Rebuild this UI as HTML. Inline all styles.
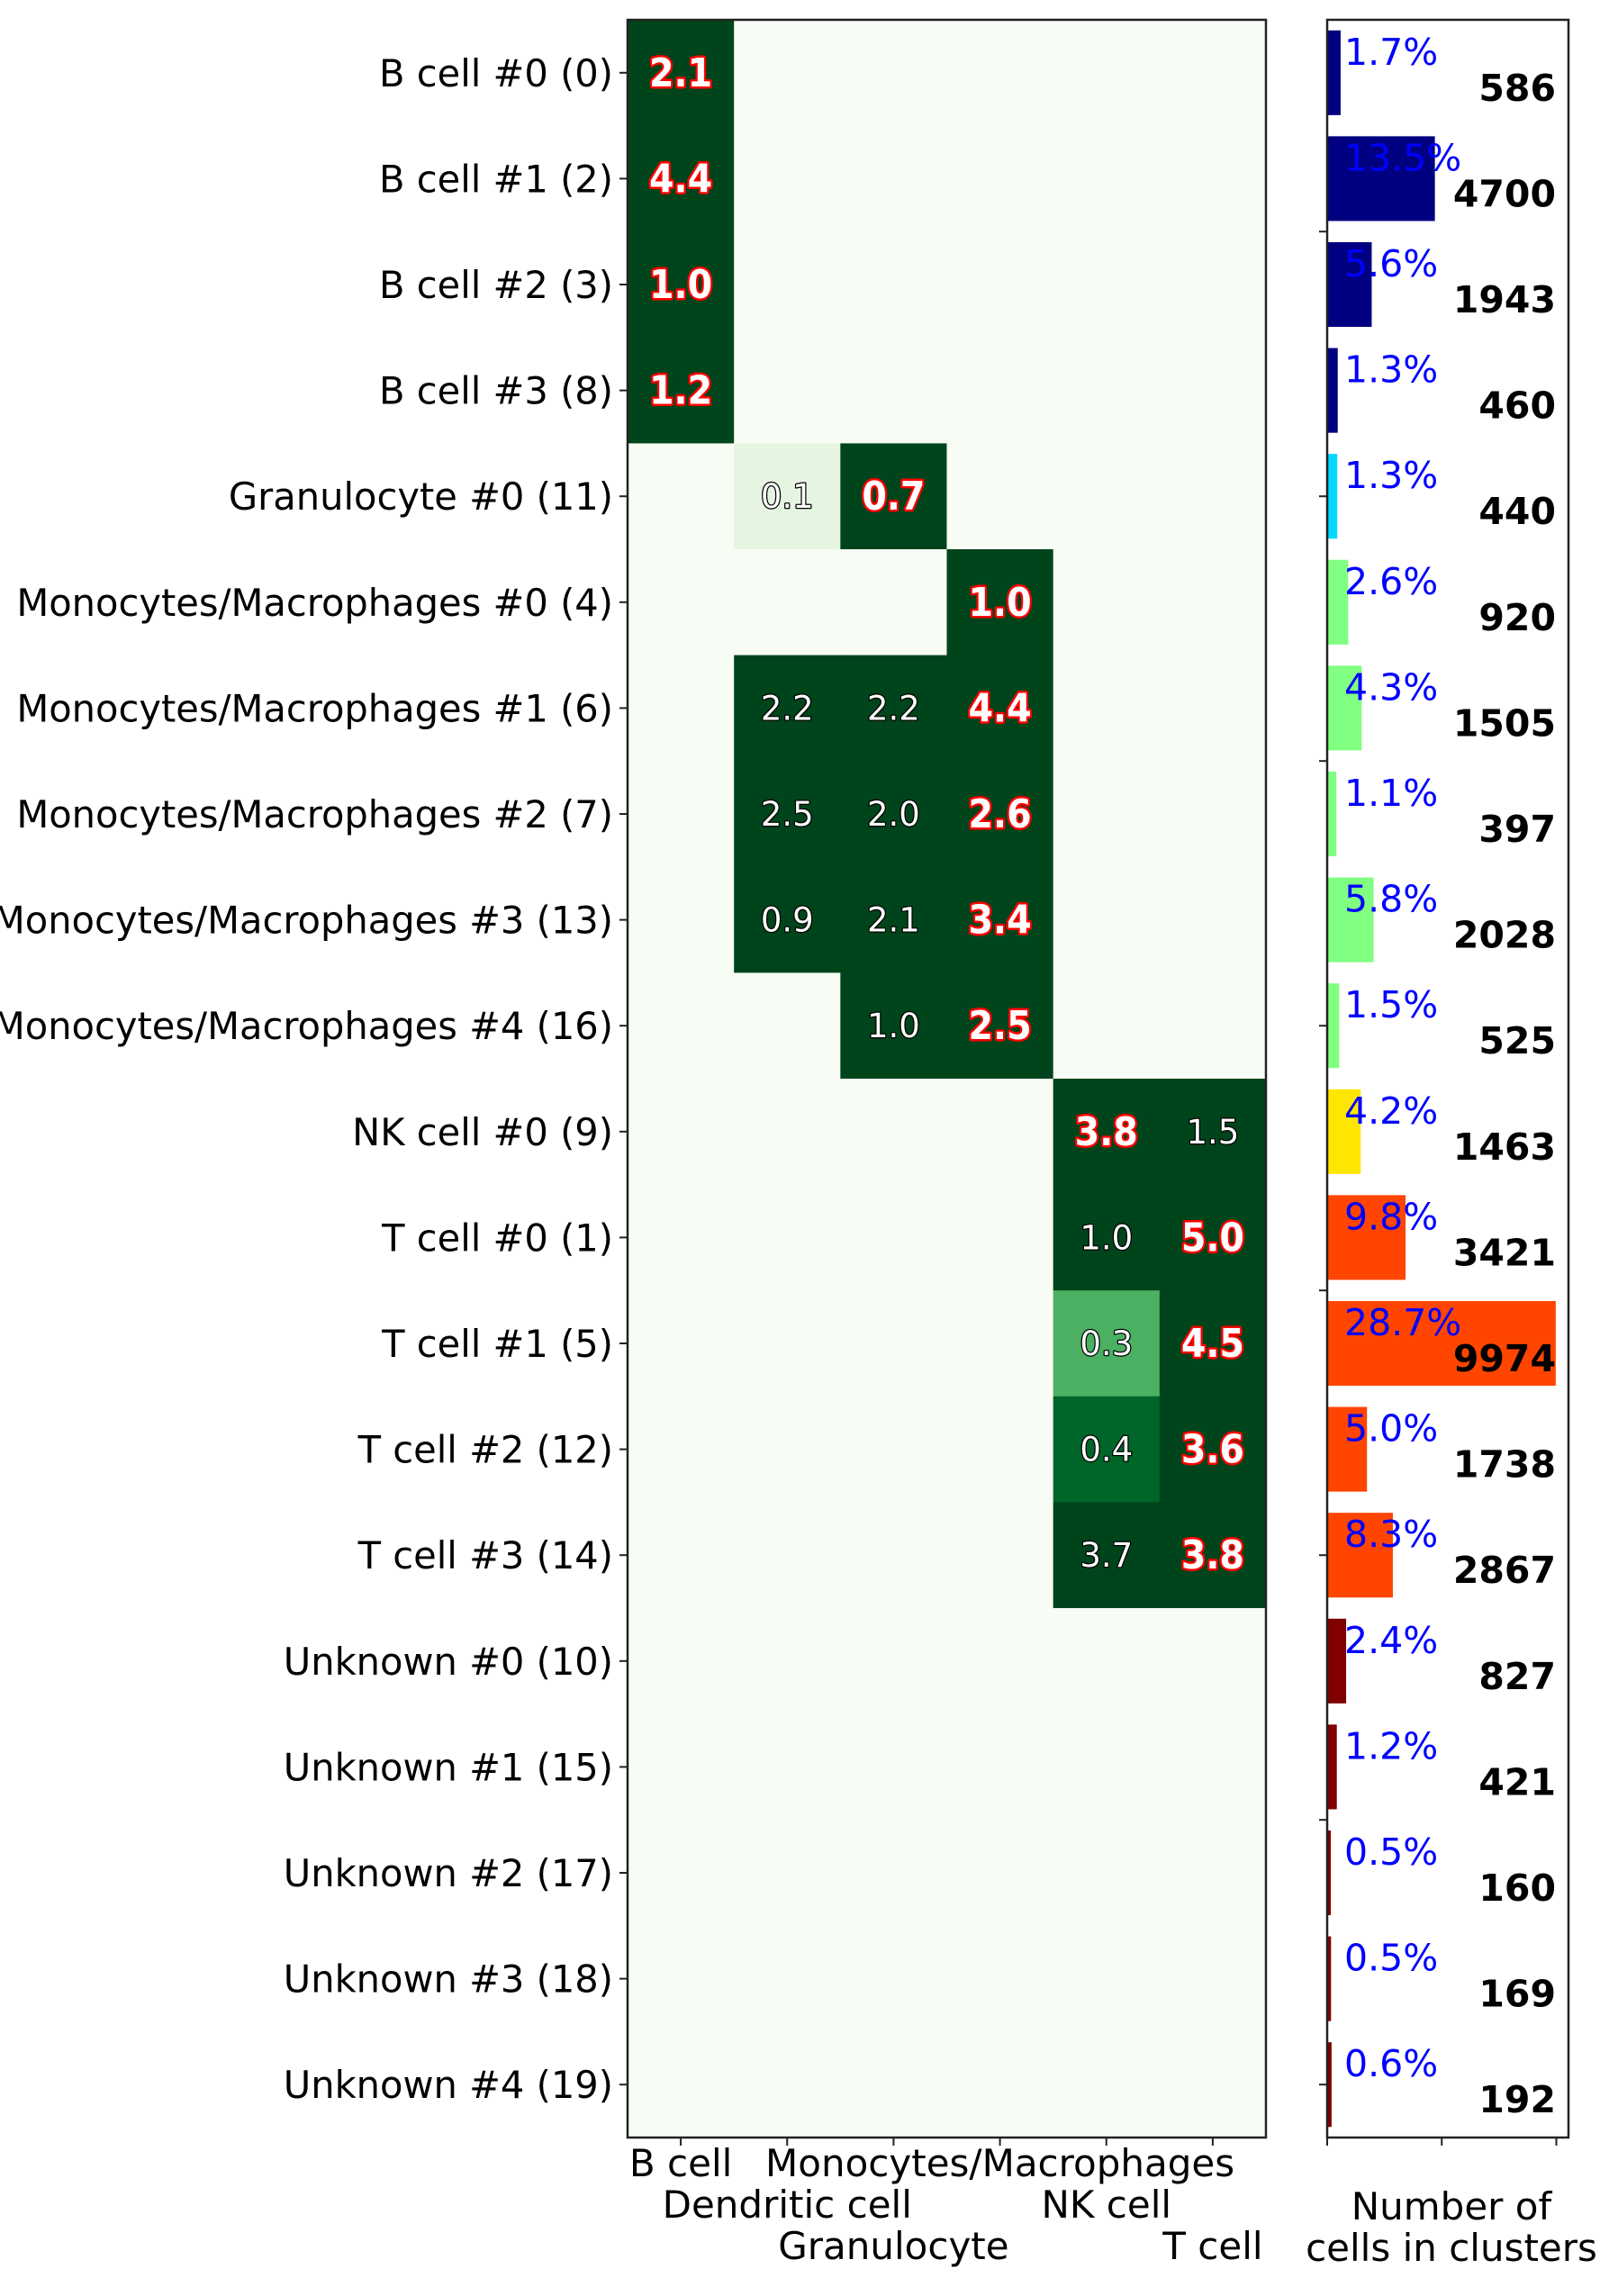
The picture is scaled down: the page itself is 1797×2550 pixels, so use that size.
<!DOCTYPE html>
<html><head><meta charset="utf-8"><style>
html,body{margin:0;padding:0;background:#fff;}
svg{display:block;font-family:"DejaVu Sans","Liberation Sans",sans-serif;}
</style></head><body>
<svg id="chart" width="1797" height="2550" viewBox="0 0 1797 2550" xmlns="http://www.w3.org/2000/svg">
<rect width="1797" height="2550" fill="#fff"/>
<g id="heat"></g>
<g id="bars"></g>
</svg>
<script>
const rowLabels = ["B cell #0 (0)","B cell #1 (2)","B cell #2 (3)","B cell #3 (8)","Granulocyte #0 (11)","Monocytes/Macrophages #0 (4)","Monocytes/Macrophages #1 (6)","Monocytes/Macrophages #2 (7)","Monocytes/Macrophages #3 (13)","Monocytes/Macrophages #4 (16)","NK cell #0 (9)","T cell #0 (1)","T cell #1 (5)","T cell #2 (12)","T cell #3 (14)","Unknown #0 (10)","Unknown #1 (15)","Unknown #2 (17)","Unknown #3 (18)","Unknown #4 (19)"];
const colLabels = ["B cell","Dendritic cell","Granulocyte","Monocytes/Macrophages","NK cell","T cell"];
const cellText = [
["2.1","","","","",""],["4.4","","","","",""],["1.0","","","","",""],["1.2","","","","",""],
["","0.1","0.7","","",""],["","","","1.0","",""],["","2.2","2.2","4.4","",""],["","2.5","2.0","2.6","",""],
["","0.9","2.1","3.4","",""],["","","1.0","2.5","",""],["","","","","3.8","1.5"],["","","","","1.0","5.0"],
["","","","","0.3","4.5"],["","","","","0.4","3.6"],["","","","","3.7","3.8"],
["","","","","",""],["","","","","",""],["","","","","",""],["","","","","",""],["","","","","",""]];
const cellLevel = [
[1,0,0,0,0,0],[1,0,0,0,0,0],[1,0,0,0,0,0],[1,0,0,0,0,0],
[0,0.12,1,0,0,0],[0,0,0,1,0,0],[0,1,1,1,0,0],[0,1,1,1,0,0],
[0,1,1,1,0,0],[0,0,1,1,0,0],[0,0,0,0,1,1],[0,0,0,0,1,1],
[0,0,0,0,0.6,1],[0,0,0,0,0.9,1],[0,0,0,0,1,1],
[0,0,0,0,0,0],[0,0,0,0,0,0],[0,0,0,0,0,0],[0,0,0,0,0,0],[0,0,0,0,0,0]];
const cellBest = [
[1,0,0,0,0,0],[1,0,0,0,0,0],[1,0,0,0,0,0],[1,0,0,0,0,0],
[0,0,1,0,0,0],[0,0,0,1,0,0],[0,0,0,1,0,0],[0,0,0,1,0,0],
[0,0,0,1,0,0],[0,0,0,1,0,0],[0,0,0,0,1,0],[0,0,0,0,0,1],
[0,0,0,0,0,1],[0,0,0,0,0,1],[0,0,0,0,0,1],
[0,0,0,0,0,0],[0,0,0,0,0,0],[0,0,0,0,0,0],[0,0,0,0,0,0],[0,0,0,0,0,0]];
const counts = [586,4700,1943,460,440,920,1505,397,2028,525,1463,3421,9974,1738,2867,827,421,160,169,192];
const percents = ["1.7%","13.5%","5.6%","1.3%","1.3%","2.6%","4.3%","1.1%","5.8%","1.5%","4.2%","9.8%","28.7%","5.0%","8.3%","2.4%","1.2%","0.5%","0.5%","0.6%"];
const barColors = ["#000080","#000080","#000080","#000080","#00d8ff","#80ff80","#80ff80","#80ff80","#80ff80","#80ff80","#ffe600","#ff4500","#ff4500","#ff4500","#ff4500","#800000","#800000","#800000","#800000","#800000"];
const barTicks = [0,5000,10000];

const NS="http://www.w3.org/2000/svg";
function mk(parent,tag,attrs,txt){const e=document.createElementNS(NS,tag);for(const k in attrs)e.setAttribute(k,attrs[k]);if(txt!==undefined)e.textContent=txt;parent.appendChild(e);return e;}
const HX0=697,HX1=1406,HY0=22,HY1=2374;
const nR=rowLabels.length,nC=colLabels.length;
const rowH=(HY1-HY0)/nR,colW=(HX1-HX0)/nC;
const yRow=i=>HY0+rowH*(i+0.5);
const xCol=j=>HX0+colW*(j+0.5);
const greens=[[247,252,245],[229,245,224],[199,233,192],[161,217,155],[116,196,118],[65,171,93],[35,139,69],[0,109,44],[0,68,27]];
function gcol(t){t=Math.max(0,Math.min(1,t))*(greens.length-1);const i=Math.min(Math.floor(t),greens.length-2),f=t-i;const a=greens[i],b=greens[i+1];return "rgb("+a.map((v,k)=>Math.round(v+(b[k]-v)*f)).join(",")+")";}

const heat=document.getElementById('heat');
for(let i=0;i<nR;i++){for(let j=0;j<nC;j++){
  const r=mk(heat,'rect',{x:HX0+colW*j,y:HY0+rowH*i,width:colW+0.6,height:rowH+0.6,fill:gcol(cellLevel[i][j])});
  
  
}}
for(let i=0;i<nR;i++){for(let j=0;j<nC;j++){
  const s=cellText[i][j]; if(!s)continue;
  let t;
  if(cellBest[i][j]) t=mk(heat,'text',{x:xCol(j),y:yRow(i)+15,'text-anchor':'middle','font-size':44,'font-weight':'bold',fill:'#fff',stroke:'#ff0000','stroke-width':5,'paint-order':'stroke','stroke-linejoin':'round',transform:'translate('+xCol(j)+',0) scale(0.9,1) translate('+(-xCol(j))+',0)'},s);
  else t=mk(heat,'text',{x:xCol(j),y:yRow(i)+13,'text-anchor':'middle','font-size':37,fill:'#fff',stroke:'#000','stroke-width':2.5,'paint-order':'stroke','stroke-linejoin':'round'},s);
  
  
}}
mk(heat,'rect',{x:HX0,y:HY0,width:HX1-HX0,height:HY1-HY0,fill:'none',stroke:'#222','stroke-width':2.5});
for(let i=0;i<nR;i++){
  mk(heat,'line',{x1:HX0-9,x2:HX0,y1:yRow(i),y2:yRow(i),stroke:'#222','stroke-width':2});
  const t=mk(heat,'text',{x:681,y:yRow(i)+15,'text-anchor':'end','font-size':41.6,fill:'#000'},rowLabels[i]);
  
  
}
const colBase=[2417,2463,2509];
for(let j=0;j<nC;j++){
  mk(heat,'line',{x1:xCol(j),x2:xCol(j),y1:HY1,y2:HY1+9,stroke:'#222','stroke-width':2});
  const t=mk(heat,'text',{x:xCol(j),y:colBase[j%3],'text-anchor':'middle','font-size':42,fill:'#000'},colLabels[j]);
  
  
}

const bars=document.getElementById('bars');
const BX0=1474,BX1=1742,xmax=10530;
const xb=v=>BX0+(BX1-BX0)*v/xmax;
for(let i=0;i<nR;i++){
  const r=mk(bars,'rect',{x:BX0,y:yRow(i)-rowH*0.4,width:xb(counts[i])-BX0,height:rowH*0.8,fill:barColors[i]});
  
  
  const p=mk(bars,'text',{x:1493,y:yRow(i)-9,'font-size':41,fill:'#0000ff'},percents[i]);
  
  
  const c=mk(bars,'text',{x:1728,y:yRow(i)+31,'text-anchor':'end','font-size':41,'font-weight':'bold',fill:'#000'},String(counts[i]));
  
  
}
mk(bars,'rect',{x:BX0,y:HY0,width:BX1-BX0,height:HY1-HY0,fill:'none',stroke:'#222','stroke-width':2.5});
for(let k=0;k*2.5-1<nR-0.5;k++){const v=-1+2.5*k;if(v<-0.5)continue;mk(bars,'line',{x1:BX0-9,x2:BX0,y1:yRow(v),y2:yRow(v),stroke:'#222','stroke-width':2});}
barTicks.forEach(v=>mk(bars,'line',{x1:xb(v),x2:xb(v),y1:HY1,y2:HY1+9,stroke:'#222','stroke-width':2}));
const t1=mk(bars,'text',{x:1612,y:2465,'text-anchor':'middle','font-size':42,fill:'#000'},'Number of');


const t2=mk(bars,'text',{x:1612,y:2511,'text-anchor':'middle','font-size':42,fill:'#000'},'cells in clusters');


</script>
</body></html>
